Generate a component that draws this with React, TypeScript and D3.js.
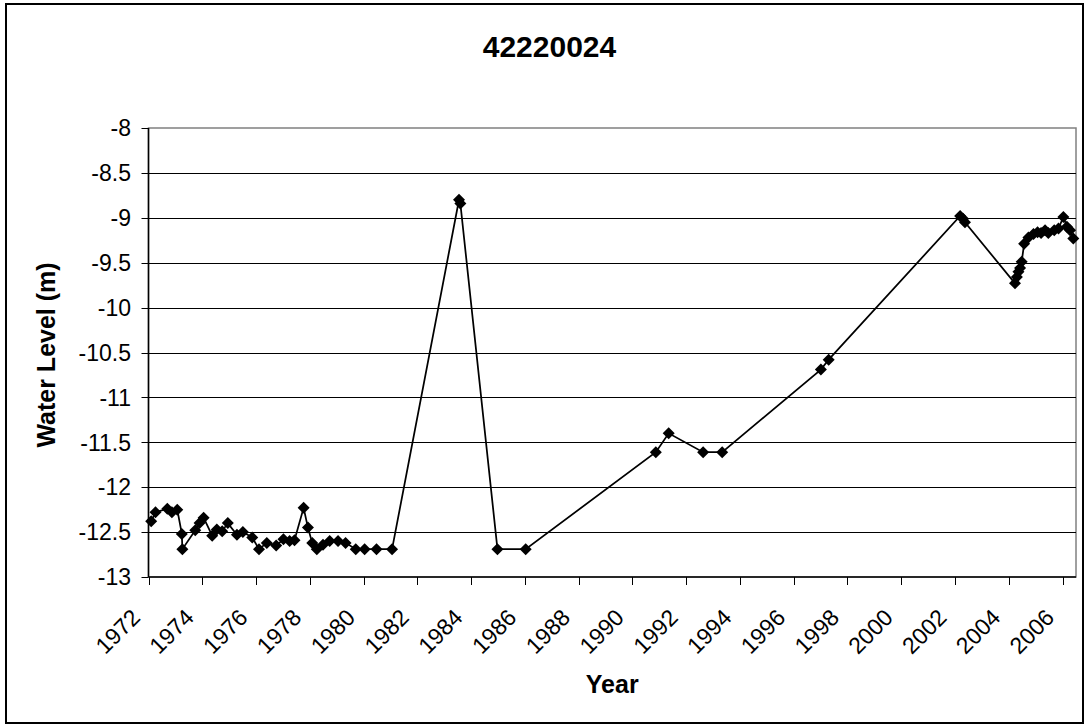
import React from "react";
import * as d3 from "d3";

const TITLE = "42220024";
const X_TITLE = "Year";
const Y_TITLE = "Water Level (m)";

const years: number[] = [
  1972.10, 1972.26, 1972.70, 1972.87, 1973.07, 1973.24, 1973.26, 1973.74, 1973.90, 1974.05,
  1974.37, 1974.54, 1974.74, 1974.95, 1975.29, 1975.51, 1975.86, 1976.11, 1976.40, 1976.75,
  1977.02, 1977.25, 1977.43, 1977.77, 1977.93, 1978.09, 1978.26, 1978.49, 1978.74, 1979.05,
  1979.33, 1979.71, 1980.04, 1980.48, 1981.06, 1983.55, 1983.60, 1984.98, 1986.03, 1990.87,
  1991.35, 1992.63, 1993.34, 1997.01, 1997.30, 2002.19, 2002.30, 2002.37, 2004.23, 2004.30,
  2004.36, 2004.42, 2004.48, 2004.57, 2004.73, 2004.92, 2005.07, 2005.20, 2005.35, 2005.47,
  2005.69, 2005.85, 2006.03, 2006.16, 2006.28, 2006.40,
];

const levels: number[] = [
  -12.38, -12.28, -12.24, -12.28, -12.25, -12.52, -12.69, -12.48, -12.40, -12.34,
  -12.54, -12.47, -12.49, -12.40, -12.53, -12.50, -12.56, -12.69, -12.62, -12.65,
  -12.58, -12.60, -12.59, -12.23, -12.45, -12.62, -12.69, -12.64, -12.60, -12.60,
  -12.62, -12.69, -12.69, -12.69, -12.69, -8.80, -8.84, -12.69, -12.69, -11.61,
  -11.40, -11.61, -11.61, -10.69, -10.58, -8.98, -9.01, -9.05, -9.73, -9.66,
  -9.60, -9.56, -9.49, -9.29, -9.22, -9.18, -9.16, -9.17, -9.14, -9.17,
  -9.14, -9.12, -8.99, -9.10, -9.14, -9.23,
];

const xTicks: number[] = [1972, 1974, 1976, 1978, 1980, 1982, 1984, 1986, 1988, 1990, 1992, 1994, 1996, 1998, 2000, 2002, 2004, 2006];
const yTicks: number[] = [-8, -8.5, -9, -9.5, -10, -10.5, -11, -11.5, -12, -12.5, -13];
const X_DOMAIN: [number, number] = [1972, 2006.5];
const Y_DOMAIN: [number, number] = [-13, -8];

const W = 1085;
const H = 726;
const FONT = "'Liberation Sans', Arial, Helvetica, sans-serif";

export default function App() {
  const left = 148.5, right = 1076, top = 128, bottom = 577;
  const x = d3.scaleLinear().domain(X_DOMAIN).range([left, right]);
  const y = d3.scaleLinear().domain(Y_DOMAIN).range([bottom, top]);
  const pts = years.map((yr, i) => [yr, levels[i]] as [number, number]);
  const line = d3.line<[number, number]>().x(d => x(d[0])).y(d => y(d[1]));
  const ds = 6;
  const diamond = `M0,${-ds}L${ds},0L0,${ds}L${-ds},0Z`;

  return (
    <svg width={W} height={H} style={{ position: "absolute", left: 0, top: 0, background: "#fff" }} fontFamily={FONT}>
      <rect x={0} y={0} width={W} height={H} fill="#fff" />
      <rect x={6} y={4} width={1077} height={719} fill="none" stroke="#000" strokeWidth={2} />
      <text x={549.5} y={57} textAnchor="middle" fontSize={30} fontWeight="bold">{TITLE}</text>
      {/* plot area */}
      <rect x={left} y={top} width={right - left} height={bottom - top} fill="#fff" stroke="#808080" strokeWidth={1.5} />
      {yTicks.filter(v => v !== -8 && v !== -13).map(v => (
        <line key={"g" + v} x1={left} x2={right} y1={Math.round(y(v)) + 0.5} y2={Math.round(y(v)) + 0.5} stroke="#000" strokeWidth={1} />
      ))}
      {/* y axis */}
      <line x1={left} x2={left} y1={top} y2={bottom} stroke="#000" strokeWidth={1.5} />
      {yTicks.map(v => (
        <g key={"y" + v}>
          <line x1={left - 7} x2={left} y1={Math.round(y(v)) + 0.5} y2={Math.round(y(v)) + 0.5} stroke="#000" strokeWidth={1} />
          <text x={131} y={y(v)} dy="0.36em" textAnchor="end" fontSize={23}>{String(v)}</text>
        </g>
      ))}
      {/* x axis */}
      <line x1={left} x2={right} y1={bottom} y2={bottom} stroke="#000" strokeWidth={1.5} />
      {xTicks.map(t => (
        <g key={"x" + t}>
          <line x1={Math.round(x(t)) + 0.5} x2={Math.round(x(t)) + 0.5} y1={bottom} y2={bottom + 8} stroke="#000" strokeWidth={1} />
          <text transform={`translate(${x(t) - 7},${bottom + 42}) rotate(-45)`} textAnchor="end" fontSize={23}>{String(t)}</text>
        </g>
      ))}
      <text x={(left + right) / 2} y={693} textAnchor="middle" fontSize={25} fontWeight="bold">{X_TITLE}</text>
      <text transform={`translate(55,355) rotate(-90)`} textAnchor="middle" fontSize={25} fontWeight="bold">{Y_TITLE}</text>
      {/* series */}
      <path d={line(pts) || ""} fill="none" stroke="#000" strokeWidth={1.75} />
      {pts.map((p, i) => (
        <path key={"m" + i} d={diamond} transform={`translate(${x(p[0])},${y(p[1])})`} fill="#000" />
      ))}
    </svg>
  );
}
